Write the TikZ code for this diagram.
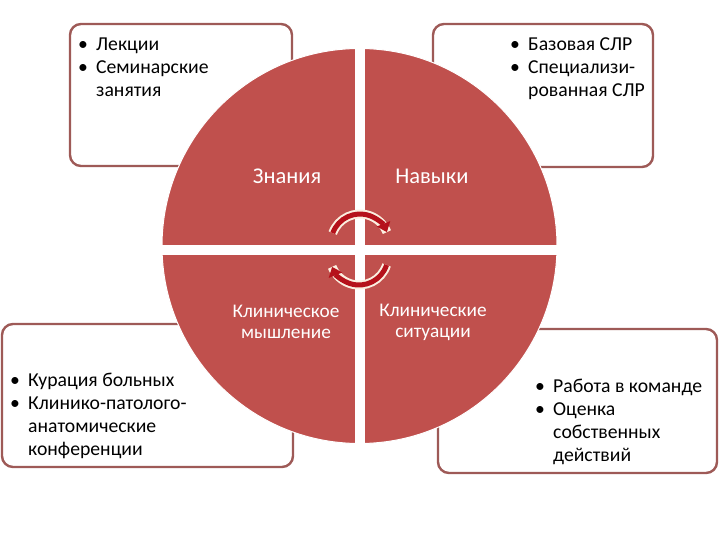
\documentclass[tikz,border=0pt]{standalone}
\usepackage{fontspec}
\setmainfont{Carlito}
\usetikzlibrary{arrows.meta}
\definecolor{pie}{HTML}{C0504D}
\definecolor{boxline}{HTML}{9E5A57}
\definecolor{arr}{HTML}{B5121B}
\definecolor{cream}{HTML}{FBEFE0}
\tikzset{
  infobox/.style={draw=boxline, line width=2.4pt, rounded corners=11pt, fill=white, inner sep=0pt},
  boxtext/.style={align=left, inner sep=0pt, anchor=north west, text=black, font=\fontsize{19.7}{22.8}\selectfont},
  pietext/.style={align=center, inner sep=0pt, text=white, font=\fontsize{19.3}{21}\selectfont},
  pietextbig/.style={align=center, inner sep=0pt, text=white, font=\fontsize{22.5}{24}\selectfont},
  cyclearrowback/.style={draw=cream, line width=9pt},
  cyclearrow/.style={draw=arr, line width=5pt, -{Triangle[length=9pt,width=14pt]}},
}
\newcommand{\bul}{\makebox[18pt][l]{•}}
\begin{document}
\begin{tikzpicture}[x=1pt,y=-1pt]
\useasboundingbox (0,0) rectangle (720,540);
% boxes
\node[infobox, minimum width=222pt, minimum height=142pt] (tl) at (181,95) {};
\node[infobox, minimum width=220pt, minimum height=143pt] (tr) at (543,95.5) {};
\node[infobox, minimum width=291pt, minimum height=143pt] (bl) at (147.5,395.5) {};
\node[infobox, minimum width=279pt, minimum height=144pt] (br) at (577.5,401) {};
% circle
\fill[pie, draw=white, line width=1pt] (359.5,246) circle (197.5);
\draw[white, line width=10pt] (359.5,46) -- (359.5,446);
\draw[white, line width=10pt] (160,249.5) -- (559,249.5);
% texts in boxes
\node[boxtext] (tlt) at (78,38) {\bul Лекции\\\bul Семинарские\\\hspace*{18pt}занятия};
\node[boxtext] (trt) at (510,38) {\bul Базовая СЛР\\\bul Специализи-\\\hspace*{18pt}рованная СЛР};
\node[boxtext] (blt) at (10,373) {\bul Курация больных\\\bul Клинико-патолого-\\\hspace*{18pt}анатомические\\\hspace*{18pt}конференции};
\node[boxtext] (brt) at (535,379) {\bul Работа в команде\\\bul Оценка\\\hspace*{18pt}собственных\\\hspace*{18pt}действий};
% pie labels
\node[pietextbig] (zn) at (287,176) {Знания};
\node[pietextbig] (nv) at (432,176) {Навыки};
\node[pietext] (km) at (286,322) {Клиническое\\мышление};
\node[pietext] (ks) at (433,322) {Клинические\\ситуации};
% cycle arrows
\coordinate (uc) at (360,243);
\coordinate (lc) at (359,256);
\draw[cyclearrowback] ([shift={(-160:29)}]uc) arc[start angle=-160, end angle=-22, radius=29];
\draw[cyclearrow] ([shift={(-160:29)}]uc) arc[start angle=-160, end angle=-22, radius=29];
\draw[cyclearrowback] ([shift={(18:29)}]lc) arc[start angle=18, end angle=158, radius=29];
\draw[cyclearrow] ([shift={(18:29)}]lc) arc[start angle=18, end angle=158, radius=29];
\end{tikzpicture}
\end{document}
